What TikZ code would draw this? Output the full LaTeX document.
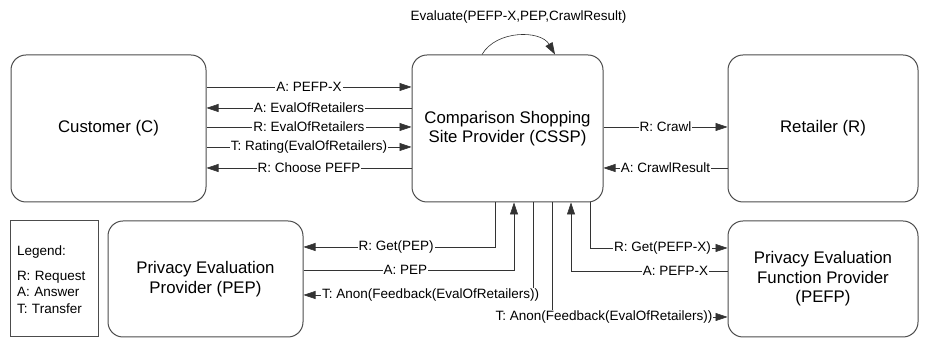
\documentclass[tikz,border=0pt]{standalone}
\usepackage{fontspec}
\setmainfont{Liberation Sans}
\usetikzlibrary{arrows.meta}

\begin{document}
\begin{tikzpicture}[x=1pt,y=1pt,
    party/.style={draw=black!70,line width=1pt,rounded corners=15pt,
      align=center,inner sep=0pt,font=\fontsize{16.8}{19.5}\selectfont},
    msg/.style={draw=black!80,line width=0.6pt,-{Triangle[length=12pt,width=8pt]}},
    lbl/.style={font=\fontsize{13.5}{16}\selectfont,fill=white,inner sep=1pt}]
  \useasboundingbox (0,0) rectangle (935,339);
  % parties
  \node[party,minimum width=195pt,minimum height=147pt] (cust) at (108.5,210.5) {Customer (C)};
  \node[party,minimum width=191pt,minimum height=147pt] (cssp) at (507.5,210.5)
        {Comparison Shopping\\Site Provider (CSSP)};
  \node[party,minimum width=190pt,minimum height=147pt] (ret) at (823,210.5) {Retailer (R)};
  \node[party,minimum width=195pt,minimum height=116pt] (pep) at (205.5,60)
        {Privacy Evaluation\\Provider (PEP)};
  \node[party,minimum width=190pt,minimum height=116pt] (pefp) at (823,60)
        {Privacy Evaluation\\Function Provider\\(PEFP)};
  \node[draw=black!70,line width=1pt,minimum height=116pt,text width=74pt,
        inner xsep=7pt,align=left,font=\fontsize{13.5}{16.5}\selectfont] (legend) at (54,60)
        {\mbox{}\\[-6pt]Legend:\\[8.5pt]R: Request\\A: Answer\\T: Transfer};
  % customer and cssp
  \draw[msg] (cust.east |- 0,252) -- node[lbl] {A: PEFP-X} (cssp.west |- 0,252);
  \draw[msg] (cssp.west |- 0,231) -- node[lbl] {A: EvalOfRetailers} (cust.east |- 0,231);
  \draw[msg] (cust.east |- 0,212) -- node[lbl] {R: EvalOfRetailers} (cssp.west |- 0,212);
  \draw[msg] (cust.east |- 0,192) -- node[lbl] {T: Rating(EvalOfRetailers)} (cssp.west |- 0,192);
  \draw[msg] (cssp.west |- 0,171) -- node[lbl] {R: Choose PEFP} (cust.east |- 0,171);
  % cssp and retailer
  \draw[msg] (cssp.east |- 0,212) -- node[lbl] {R: Crawl} (ret.west |- 0,212);
  \draw[msg] (ret.west |- 0,171) -- node[lbl] {A: CrawlResult} (cssp.east |- 0,171);
  % evaluation
  \draw[msg] (cssp.north -| 482,0) to[out=60,in=120]
        node[lbl,above=11pt] {Evaluate(PEFP-X,PEP,CrawlResult)} (cssp.north -| 555,0);
  % pep and pefp
  \draw[msg] (cssp.south -| 495,0) |- node[lbl,pos=0.758] {R: Get(PEP)} (pep.east |- 0,92);
  \draw[msg] (pep.east |- 0,69) -| node[lbl,pos=0.242] {A: PEP} (cssp.south -| 514,0);
  \draw[msg] (cssp.south -| 533,0) |- node[lbl,pos=0.723]
        {T: Anon(Feedback(EvalOfRetailers))} (pep.east |- 0,44);
  \draw[msg] (cssp.south -| 552,0) |- node[lbl,pos=0.648]
        {T: Anon(Feedback(EvalOfRetailers))} (pefp.west |- 0,22);
  \draw[msg] (pefp.west |- 0,68) -| node[lbl,pos=0.166] {A: PEFP-X} (cssp.south -| 571,0);
  \draw[msg] (cssp.south -| 590,0) |- node[lbl,pos=0.764] {R: Get(PEFP-X)} (pefp.west |- 0,91);
\end{tikzpicture}
\end{document}
